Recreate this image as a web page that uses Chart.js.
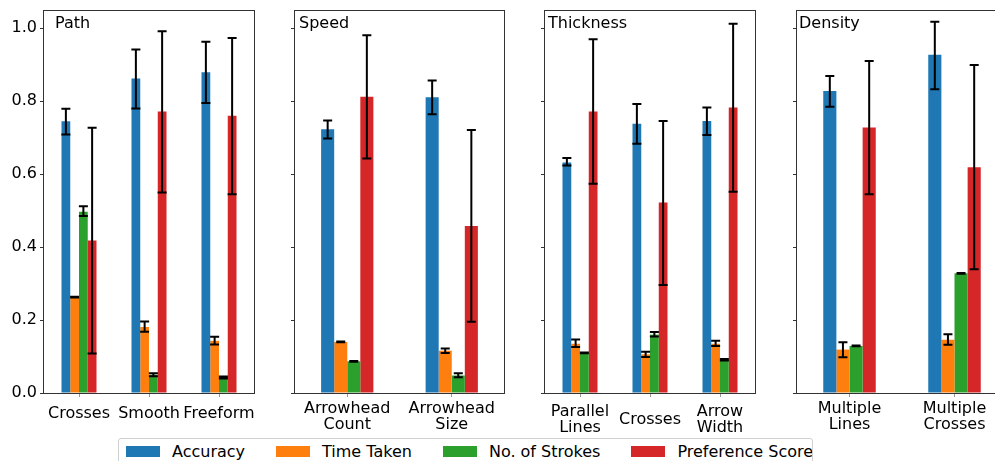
<!DOCTYPE html>
<html>
<head>
<meta charset="utf-8">
<script src="https://cdn.jsdelivr.net/npm/chart.js@4.4.1/dist/chart.umd.min.js"></script>
<style>
  html, body { margin: 0; padding: 0; background: #fff; }
  #wrap { position: relative; width: 995px; height: 461px; overflow: hidden; background: #fff; }
  canvas { position: absolute; top: 0; }
  #legend {
    position: absolute; left: 118px; top: 438px; width: 695px; height: 40px;
    border: 1px solid #d0d0d0; border-radius: 3px; box-sizing: border-box;
    display: flex; align-items: flex-start; padding: 6px 0 0 7px;
    font-family: "DejaVu Sans", sans-serif; font-size: 16px; color: #000;
    white-space: nowrap; overflow: hidden;
  }
  .item { display: flex; align-items: center; margin-right: 31px; height: 13px; flex-shrink: 0; }
  .patch { width: 34px; height: 11px; margin-right: 12px; flex-shrink: 0; }
</style>
</head>
<body>
<div id="wrap">
  <canvas id="p0"></canvas>
  <canvas id="p1"></canvas>
  <canvas id="p2"></canvas>
  <canvas id="p3"></canvas>
  <div id="legend"></div>
</div>
<script>
// ---- data ----
const seriesNames = ['Accuracy', 'Time Taken', 'No. of Strokes', 'Preference Score'];
const seriesColors = ['#1f77b4', '#ff7f0e', '#2ca02c', '#d62728'];

const panelTitles = ['Path', 'Speed', 'Thickness', 'Density'];
const panelCategories = [
  ['Crosses', 'Smooth', 'Freeform'],
  [['Arrowhead', 'Count'], ['Arrowhead', 'Size']],
  [['Parallel', 'Lines'], 'Crosses', ['Arrow', 'Width']],
  [['Multiple', 'Lines'], ['Multiple', 'Crosses']]
];

// values over all 10 categories, panel after panel
const accuracy     = [0.745, 0.862, 0.879, 0.723, 0.811, 0.632, 0.738, 0.746, 0.828, 0.927];
const accuracyLow  = [0.709, 0.780, 0.795, 0.698, 0.764, 0.624, 0.683, 0.707, 0.785, 0.833];
const accuracyHigh = [0.779, 0.942, 0.963, 0.747, 0.857, 0.644, 0.792, 0.783, 0.869, 1.018];

const timeTaken    = [0.263, 0.181, 0.143, 0.140, 0.116, 0.135, 0.106, 0.135, 0.119, 0.146];
const timeLow      = [0.262, 0.168, 0.133, 0.139, 0.110, 0.126, 0.099, 0.129, 0.098, 0.132];
const timeHigh     = [0.264, 0.196, 0.154, 0.141, 0.122, 0.147, 0.113, 0.143, 0.139, 0.161];

const strokes      = [0.497, 0.050, 0.042, 0.087, 0.048, 0.110, 0.160, 0.091, 0.129, 0.328];
const strokesLow   = [0.485, 0.046, 0.040, 0.086, 0.043, 0.109, 0.155, 0.089, 0.128, 0.327];
const strokesHigh  = [0.512, 0.054, 0.045, 0.088, 0.054, 0.111, 0.167, 0.093, 0.130, 0.329];

const preference   = [0.418, 0.772, 0.760, 0.812, 0.458, 0.772, 0.522, 0.783, 0.728, 0.619];
const prefLow      = [0.108, 0.550, 0.545, 0.643, 0.195, 0.574, 0.296, 0.552, 0.545, 0.339];
const prefHigh     = [0.727, 0.992, 0.973, 0.981, 0.721, 0.970, 0.746, 1.012, 0.910, 0.899];

const yMax = 1.05;
const yStep = 0.2;

// ---- layout ----
const FONT = { family: 'DejaVu Sans', size: 16, lineHeight: 1.0 };
const AXIS_W = 44;
const CANVAS_H = 437;
const AREA_TOP = 10;
const AREA_BOTTOM = 393;
const panelLeft  = [44, 295, 545, 797];
const panelWidth = [210, 209, 210, 210];
const titleOffset = [11, 4, 3, 2];
const labelPad = [17, 12, 15, 12];

const means = [accuracy, timeTaken, strokes, preference];
const lows  = [accuracyLow, timeLow, strokesLow, prefLow];
const highs = [accuracyHigh, timeHigh, strokesHigh, prefHigh];

// error bars drawn over bars
const errorBars = {
  id: 'errorBars',
  afterDatasetsDraw(chart) {
    const ctx = chart.ctx, y = chart.scales.y;
    ctx.save();
    ctx.strokeStyle = '#000';
    ctx.lineWidth = 2;
    chart.data.datasets.forEach((ds, di) => {
      chart.getDatasetMeta(di).data.forEach((bar, i) => {
        const x = bar.x;
        const y0 = y.getPixelForValue(ds.errLow[i]);
        const y1 = y.getPixelForValue(ds.errHigh[i]);
        ctx.beginPath();
        ctx.moveTo(x, y0); ctx.lineTo(x, y1);
        ctx.moveTo(x - 4.5, y0); ctx.lineTo(x + 4.5, y0);
        ctx.moveTo(x - 4.5, y1); ctx.lineTo(x + 4.5, y1);
        ctx.stroke();
      });
    });
    ctx.restore();
  }
};

// frame + panel title
const frame = {
  id: 'frame',
  afterDraw(chart, args, opts) {
    const ctx = chart.ctx, a = chart.chartArea;
    ctx.save();
    ctx.strokeStyle = '#333';
    ctx.lineWidth = 1;
    ctx.strokeRect(Math.round(a.left) - 0.5, Math.round(a.top) + 0.5,
                   Math.round(a.right - a.left) + 1, Math.round(a.bottom - a.top));
    ctx.fillStyle = '#000';
    ctx.font = FONT.size + 'px "DejaVu Sans"';
    ctx.textBaseline = 'alphabetic';
    ctx.fillText(opts.title, a.left + opts.dx, a.top + 18);
    ctx.restore();
  }
};

let start = 0;
panelCategories.forEach((cats, p) => {
  const n = cats.length;
  const sl = arr => arr.slice(start, start + n);
  const canvas = document.getElementById('p' + p);
  canvas.width = AXIS_W + panelWidth[p] + 1;
  canvas.height = CANVAS_H;
  canvas.style.left = (panelLeft[p] - AXIS_W) + 'px';

  new Chart(canvas, {
    type: 'bar',
    data: {
      labels: cats,
      datasets: seriesNames.map((name, s) => ({
        label: name,
        data: sl(means[s]),
        errLow: sl(lows[s]),
        errHigh: sl(highs[s]),
        backgroundColor: seriesColors[s],
        borderWidth: 0,
        categoryPercentage: 0.5,
        barPercentage: 1.0
      }))
    },
    options: {
      responsive: false,
      animation: false,
      devicePixelRatio: 1,
      layout: { autoPadding: false, padding: { top: AREA_TOP, right: 1, left: 0, bottom: 0 } },
      plugins: {
        legend: { display: false },
        tooltip: { enabled: false },
        frame: { title: panelTitles[p], dx: titleOffset[p] }
      },
      scales: {
        x: {
          offset: true,
          grid: { offset: false, drawOnChartArea: false, tickLength: 4, color: '#999' },
          border: { display: false },
          ticks: {
            font: FONT, color: '#000', padding: labelPad[p], maxRotation: 0,
            autoSkip: false, crossAlign: 'center'
          },
          afterFit: s => {
            s.height = CANVAS_H - AREA_BOTTOM;
            s.paddingLeft = 0; s.paddingRight = 0;
          }
        },
        y: {
          min: 0, max: yMax,
          grid: { drawOnChartArea: false, tickLength: 4, color: '#333' },
          border: { display: false },
          ticks: {
            display: p === 0, stepSize: yStep, includeBounds: false,
            font: FONT, color: '#000', padding: 3,
            callback: v => v.toFixed(1)
          },
          afterFit: s => { s.width = AXIS_W; s.paddingTop = 0; s.paddingBottom = 0; }
        }
      }
    },
    plugins: [errorBars, frame]
  });
  start += n;
});

// legend
const legend = document.getElementById('legend');
seriesNames.forEach((name, s) => {
  legend.innerHTML += `<div class="item"><div class="patch" style="background:${seriesColors[s]}"></div><span>${name}</span></div>`;
});
</script>
</body>
</html>
